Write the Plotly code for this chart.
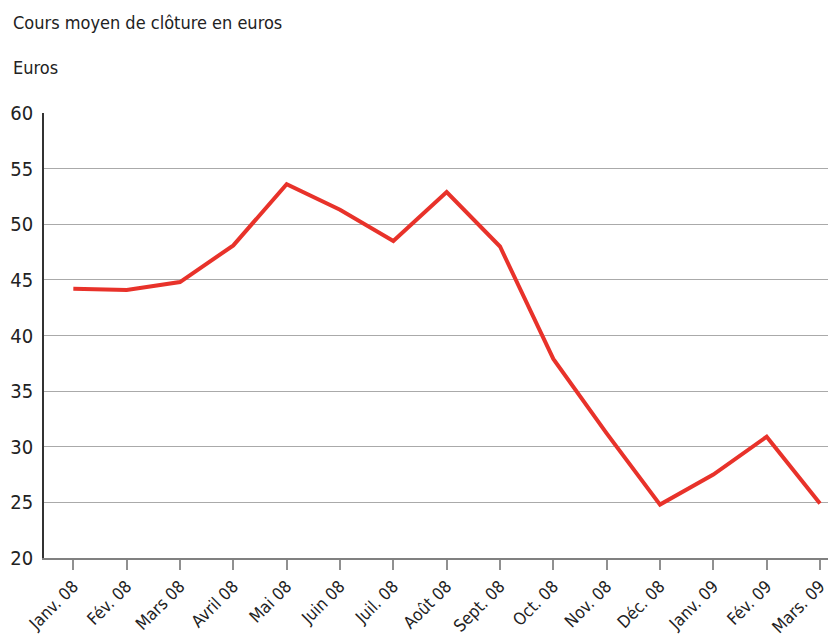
import plotly.graph_objects as go

months = ["Janv. 08", "Fév. 08", "Mars 08", "Avril 08", "Mai 08", "Juin 08", "Juil. 08",
          "Août 08", "Sept. 08", "Oct. 08", "Nov. 08", "Déc. 08", "Janv. 09", "Fév. 09", "Mars. 09"]
prices = [44.2, 44.1, 44.8, 48.1, 53.6, 51.3, 48.5, 52.9, 48.0, 37.9, 31.2, 24.8, 27.5, 30.9, 24.9]
y_ticks = [20, 25, 30, 35, 40, 45, 50, 55, 60]
reference_level = 40

FONT = "DejaVu Sans Condensed, Liberation Sans Narrow, Arial Narrow, sans-serif"

fig = go.Figure()
fig.add_trace(go.Scatter(
    x=months, y=prices, mode="lines",
    line=dict(color="#e8322a", width=4),
    hoverinfo="x+y",
))

fig.add_shape(type="line", xref="paper", yref="y", x0=0, x1=1,
              y0=reference_level, y1=reference_level,
              line=dict(color="#111111", width=1.2), layer="below")

# page body has an 8px default margin, so the figure is sized to fill the rest
fig.update_layout(
    width=828, height=630,
    margin=dict(l=36, r=0, t=105, b=80),
    paper_bgcolor="white", plot_bgcolor="white",
    showlegend=False,
    font=dict(family=FONT, color="#222222"),
    xaxis=dict(
        type="category", range=[-0.55, 14.3], automargin=False,
        showgrid=False, showline=True, linecolor="#808080", linewidth=1.5,
        ticks="outside", ticklen=10, tickcolor="#909090", tickwidth=1.5,
        tickangle=-45, tickfont=dict(size=17, family=FONT, color="#222222"),
        fixedrange=True,
    ),
    yaxis=dict(
        range=[20, 60], tickvals=y_ticks, automargin=False,
        showgrid=True, gridcolor="#aaaaaa", gridwidth=1,
        showline=True, linecolor="#333333", linewidth=1.5,
        ticks="", ticklabelstandoff=5,
        tickfont=dict(size=20, family=FONT, color="#222222"),
        zeroline=False, fixedrange=True,
    ),
    annotations=[
        dict(text="Cours moyen de clôture en euros", xref="paper", yref="paper",
             x=-33/792, y=1 + (113 - 23) / 445, xanchor="left", yanchor="middle",
             showarrow=False, font=dict(size=18, family=FONT, color="#222222")),
        dict(text="Euros", xref="paper", yref="paper",
             x=-33/792, y=1 + (113 - 68) / 445, xanchor="left", yanchor="middle",
             showarrow=False, font=dict(size=18, family=FONT, color="#222222")),
    ],
)

fig.write_html("out.html")
